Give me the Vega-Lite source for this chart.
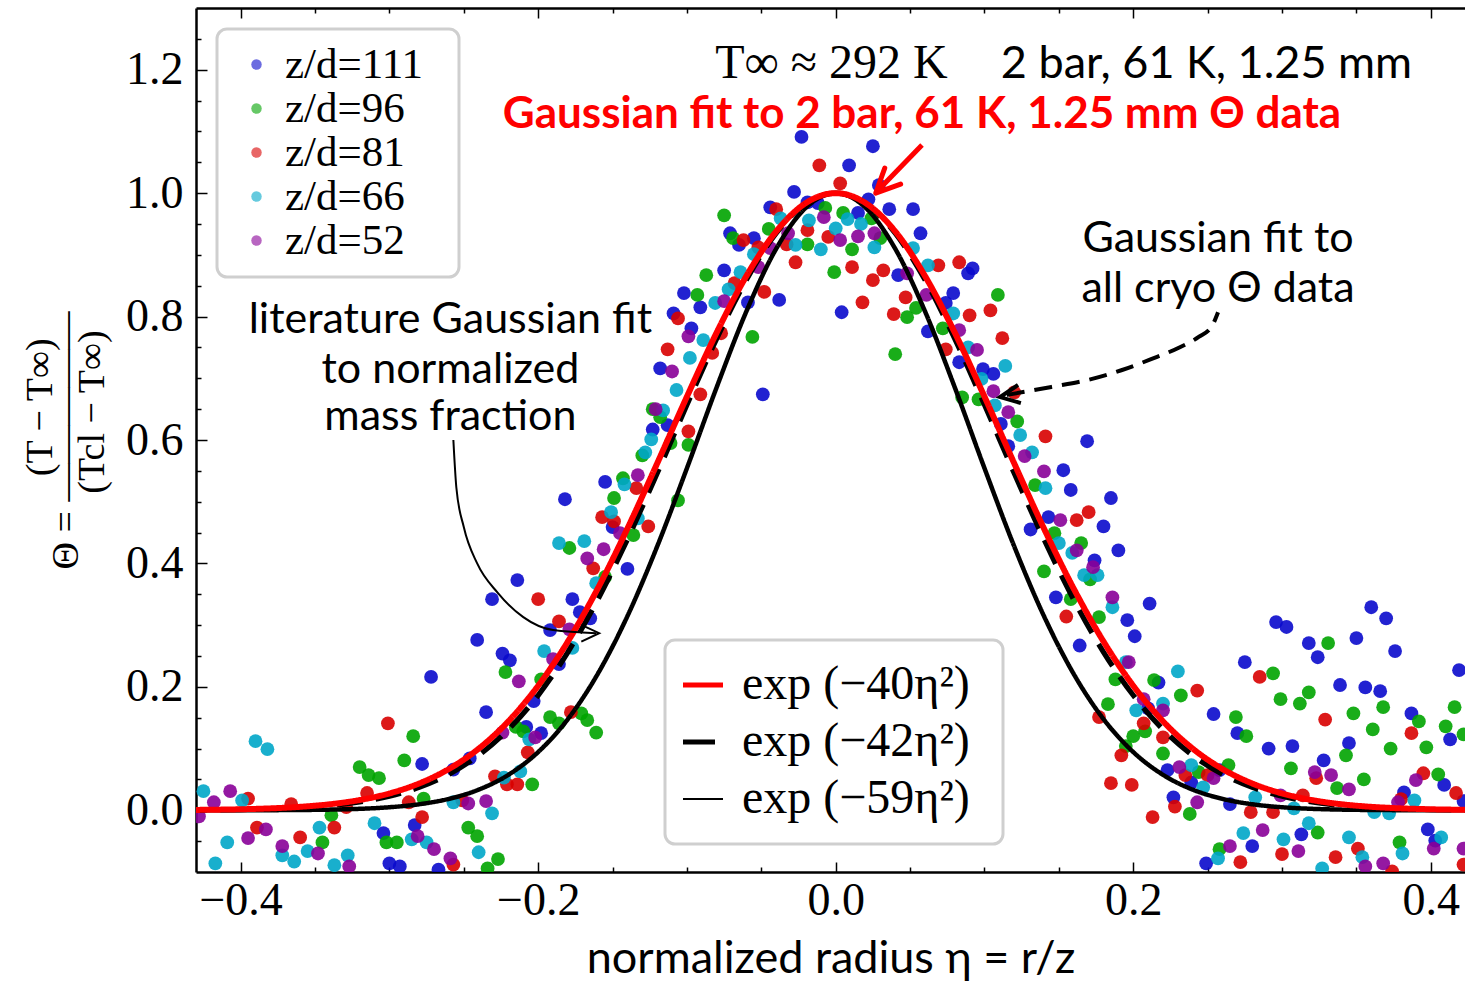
{
  "$schema": "https://vega.github.io/schema/vega-lite/v6.json",
  "width": 1269,
  "height": 864,
  "autosize": {"type": "none"},
  "padding": {"left": 196, "top": 8, "right": 0, "bottom": 110},
  "background": "white",
  "config": {
    "view": {"stroke": null},
    "axis": {"domainColor": "black", "domainWidth": 2.5, "tickColor": "black", "tickWidth": 1.5, "grid": false, "labelColor": "black", "titleColor": "black"},
    "legend": {"strokeWidth": 3}
  },
  "datasets": {
    "pts": [
      {"eta": -0.278, "theta": 0.075, "zd": "z/d=111"}, {"eta": -0.272, "theta": 0.216, "zd": "z/d=111"}, {"eta": -0.304, "theta": -0.037, "zd": "z/d=111"}, {"eta": -0.3, "theta": -0.086, "zd": "z/d=111"}, {"eta": -0.293, "theta": -0.091, "zd": "z/d=111"}, {"eta": -0.283, "theta": -0.024, "zd": "z/d=111"}, {"eta": -0.267, "theta": -0.096, "zd": "z/d=111"}, {"eta": -0.214, "theta": 0.373, "zd": "z/d=111"}, {"eta": -0.231, "theta": 0.342, "zd": "z/d=111"}, {"eta": -0.177, "theta": 0.342, "zd": "z/d=111"}, {"eta": -0.172, "theta": 0.321, "zd": "z/d=111"}, {"eta": -0.192, "theta": 0.292, "zd": "z/d=111"}, {"eta": -0.165, "theta": 0.311, "zd": "z/d=111"}, {"eta": -0.241, "theta": 0.276, "zd": "z/d=111"}, {"eta": -0.224, "theta": 0.254, "zd": "z/d=111"}, {"eta": -0.219, "theta": 0.243, "zd": "z/d=111"}, {"eta": -0.186, "theta": 0.237, "zd": "z/d=111"}, {"eta": -0.203, "theta": 0.177, "zd": "z/d=111"}, {"eta": -0.235, "theta": 0.159, "zd": "z/d=111"}, {"eta": -0.208, "theta": 0.135, "zd": "z/d=111"}, {"eta": -0.198, "theta": 0.125, "zd": "z/d=111"}, {"eta": -0.246, "theta": 0.084, "zd": "z/d=111"}, {"eta": -0.257, "theta": 0.066, "zd": "z/d=111"}, {"eta": -0.118, "theta": 0.716, "zd": "z/d=111"}, {"eta": -0.113, "theta": 0.624, "zd": "z/d=111"}, {"eta": -0.123, "theta": 0.617, "zd": "z/d=111"}, {"eta": -0.155, "theta": 0.532, "zd": "z/d=111"}, {"eta": -0.182, "theta": 0.504, "zd": "z/d=111"}, {"eta": -0.15, "theta": 0.459, "zd": "z/d=111"}, {"eta": -0.14, "theta": 0.391, "zd": "z/d=111"}, {"eta": -0.049, "theta": 0.674, "zd": "z/d=111"}, {"eta": -0.023, "theta": 1.091, "zd": "z/d=111"}, {"eta": 0.025, "theta": 1.076, "zd": "z/d=111"}, {"eta": 0.009, "theta": 1.045, "zd": "z/d=111"}, {"eta": -0.028, "theta": 1.002, "zd": "z/d=111"}, {"eta": 0.029, "theta": 1.013, "zd": "z/d=111"}, {"eta": -0.044, "theta": 0.977, "zd": "z/d=111"}, {"eta": 0.036, "theta": 0.974, "zd": "z/d=111"}, {"eta": 0.052, "theta": 0.974, "zd": "z/d=111"}, {"eta": 0.057, "theta": 0.935, "zd": "z/d=111"}, {"eta": -0.071, "theta": 0.935, "zd": "z/d=111"}, {"eta": -0.055, "theta": 0.927, "zd": "z/d=111"}, {"eta": -0.065, "theta": 0.916, "zd": "z/d=111"}, {"eta": -0.019, "theta": 0.985, "zd": "z/d=111"}, {"eta": -0.012, "theta": 0.984, "zd": "z/d=111"}, {"eta": 0.015, "theta": 0.968, "zd": "z/d=111"}, {"eta": 0.022, "theta": 0.99, "zd": "z/d=111"}, {"eta": 0.042, "theta": 0.867, "zd": "z/d=111"}, {"eta": 0.092, "theta": 0.878, "zd": "z/d=111"}, {"eta": 0.089, "theta": 0.87, "zd": "z/d=111"}, {"eta": -0.038, "theta": 0.827, "zd": "z/d=111"}, {"eta": 0.004, "theta": 0.807, "zd": "z/d=111"}, {"eta": 0.079, "theta": 0.838, "zd": "z/d=111"}, {"eta": 0.074, "theta": 0.822, "zd": "z/d=111"}, {"eta": 0.062, "theta": 0.776, "zd": "z/d=111"}, {"eta": -0.097, "theta": 0.781, "zd": "z/d=111"}, {"eta": -0.109, "theta": 0.805, "zd": "z/d=111"}, {"eta": -0.102, "theta": 0.838, "zd": "z/d=111"}, {"eta": -0.091, "theta": 0.815, "zd": "z/d=111"}, {"eta": -0.059, "theta": 0.823, "zd": "z/d=111"}, {"eta": -0.075, "theta": 0.875, "zd": "z/d=111"}, {"eta": 0.083, "theta": 0.726, "zd": "z/d=111"}, {"eta": 0.099, "theta": 0.715, "zd": "z/d=111"}, {"eta": 0.106, "theta": 0.707, "zd": "z/d=111"}, {"eta": 0.111, "theta": 0.626, "zd": "z/d=111"}, {"eta": 0.169, "theta": 0.598, "zd": "z/d=111"}, {"eta": 0.116, "theta": 0.59, "zd": "z/d=111"}, {"eta": 0.153, "theta": 0.551, "zd": "z/d=111"}, {"eta": 0.158, "theta": 0.519, "zd": "z/d=111"}, {"eta": 0.185, "theta": 0.506, "zd": "z/d=111"}, {"eta": 0.143, "theta": 0.475, "zd": "z/d=111"}, {"eta": 0.131, "theta": 0.455, "zd": "z/d=111"}, {"eta": 0.18, "theta": 0.46, "zd": "z/d=111"}, {"eta": 0.19, "theta": 0.421, "zd": "z/d=111"}, {"eta": 0.174, "theta": 0.405, "zd": "z/d=111"}, {"eta": 0.148, "theta": 0.345, "zd": "z/d=111"}, {"eta": 0.211, "theta": 0.335, "zd": "z/d=111"}, {"eta": 0.196, "theta": 0.308, "zd": "z/d=111"}, {"eta": 0.296, "theta": 0.305, "zd": "z/d=111"}, {"eta": 0.303, "theta": 0.297, "zd": "z/d=111"}, {"eta": 0.36, "theta": 0.329, "zd": "z/d=111"}, {"eta": 0.37, "theta": 0.311, "zd": "z/d=111"}, {"eta": 0.201, "theta": 0.282, "zd": "z/d=111"}, {"eta": 0.35, "theta": 0.279, "zd": "z/d=111"}, {"eta": 0.376, "theta": 0.258, "zd": "z/d=111"}, {"eta": 0.318, "theta": 0.271, "zd": "z/d=111"}, {"eta": 0.324, "theta": 0.248, "zd": "z/d=111"}, {"eta": 0.164, "theta": 0.267, "zd": "z/d=111"}, {"eta": 0.275, "theta": 0.24, "zd": "z/d=111"}, {"eta": 0.419, "theta": 0.227, "zd": "z/d=111"}, {"eta": 0.217, "theta": 0.207, "zd": "z/d=111"}, {"eta": 0.339, "theta": 0.203, "zd": "z/d=111"}, {"eta": 0.356, "theta": 0.199, "zd": "z/d=111"}, {"eta": 0.366, "theta": 0.193, "zd": "z/d=111"}, {"eta": 0.387, "theta": 0.157, "zd": "z/d=111"}, {"eta": 0.254, "theta": 0.156, "zd": "z/d=111"}, {"eta": 0.21, "theta": 0.165, "zd": "z/d=111"}, {"eta": 0.27, "theta": 0.125, "zd": "z/d=111"}, {"eta": 0.291, "theta": 0.1, "zd": "z/d=111"}, {"eta": 0.307, "theta": 0.104, "zd": "z/d=111"}, {"eta": 0.413, "theta": 0.115, "zd": "z/d=111"}, {"eta": 0.345, "theta": 0.109, "zd": "z/d=111"}, {"eta": 0.328, "theta": 0.081, "zd": "z/d=111"}, {"eta": 0.409, "theta": 0.041, "zd": "z/d=111"}, {"eta": 0.382, "theta": 0.029, "zd": "z/d=111"}, {"eta": 0.422, "theta": 0.015, "zd": "z/d=111"}, {"eta": 0.223, "theta": 0.065, "zd": "z/d=111"}, {"eta": 0.239, "theta": 0.045, "zd": "z/d=111"}, {"eta": 0.258, "theta": 0.065, "zd": "z/d=111"}, {"eta": 0.227, "theta": 0.021, "zd": "z/d=111"}, {"eta": 0.265, "theta": 0.01, "zd": "z/d=111"}, {"eta": 0.313, "theta": -0.039, "zd": "z/d=111"}, {"eta": 0.28, "theta": -0.058, "zd": "z/d=111"}, {"eta": 0.249, "theta": -0.086, "zd": "z/d=111"}, {"eta": 0.398, "theta": -0.031, "zd": "z/d=111"}, {"eta": 0.403, "theta": -0.049, "zd": "z/d=111"},
      {"eta": -0.32, "theta": 0.07, "zd": "z/d=96"}, {"eta": -0.314, "theta": 0.057, "zd": "z/d=96"}, {"eta": -0.307, "theta": 0.052, "zd": "z/d=96"}, {"eta": -0.284, "theta": 0.12, "zd": "z/d=96"}, {"eta": -0.29, "theta": 0.081, "zd": "z/d=96"}, {"eta": -0.277, "theta": 0.019, "zd": "z/d=96"}, {"eta": -0.339, "theta": -0.008, "zd": "z/d=96"}, {"eta": -0.345, "theta": -0.052, "zd": "z/d=96"}, {"eta": -0.302, "theta": -0.052, "zd": "z/d=96"}, {"eta": -0.295, "theta": -0.052, "zd": "z/d=96"}, {"eta": -0.222, "theta": 0.224, "zd": "z/d=96"}, {"eta": -0.198, "theta": 0.212, "zd": "z/d=96"}, {"eta": -0.192, "theta": 0.151, "zd": "z/d=96"}, {"eta": -0.186, "theta": 0.141, "zd": "z/d=96"}, {"eta": -0.171, "theta": 0.157, "zd": "z/d=96"}, {"eta": -0.167, "theta": 0.146, "zd": "z/d=96"}, {"eta": -0.161, "theta": 0.126, "zd": "z/d=96"}, {"eta": -0.215, "theta": 0.135, "zd": "z/d=96"}, {"eta": -0.21, "theta": 0.128, "zd": "z/d=96"}, {"eta": -0.204, "theta": 0.042, "zd": "z/d=96"}, {"eta": -0.247, "theta": -0.028, "zd": "z/d=96"}, {"eta": -0.241, "theta": -0.042, "zd": "z/d=96"}, {"eta": -0.227, "theta": -0.079, "zd": "z/d=96"}, {"eta": -0.234, "theta": -0.094, "zd": "z/d=96"}, {"eta": -0.123, "theta": 0.65, "zd": "z/d=96"}, {"eta": -0.118, "theta": 0.637, "zd": "z/d=96"}, {"eta": -0.111, "theta": 0.595, "zd": "z/d=96"}, {"eta": -0.13, "theta": 0.575, "zd": "z/d=96"}, {"eta": -0.143, "theta": 0.538, "zd": "z/d=96"}, {"eta": -0.149, "theta": 0.506, "zd": "z/d=96"}, {"eta": -0.106, "theta": 0.502, "zd": "z/d=96"}, {"eta": -0.136, "theta": 0.446, "zd": "z/d=96"}, {"eta": -0.179, "theta": 0.425, "zd": "z/d=96"}, {"eta": -0.155, "theta": 0.378, "zd": "z/d=96"}, {"eta": -0.099, "theta": 0.592, "zd": "z/d=96"}, {"eta": -0.075, "theta": 0.964, "zd": "z/d=96"}, {"eta": -0.069, "theta": 0.927, "zd": "z/d=96"}, {"eta": -0.045, "theta": 0.942, "zd": "z/d=96"}, {"eta": -0.007, "theta": 0.976, "zd": "z/d=96"}, {"eta": 0.005, "theta": 0.968, "zd": "z/d=96"}, {"eta": 0.024, "theta": 0.959, "zd": "z/d=96"}, {"eta": -0.019, "theta": 0.917, "zd": "z/d=96"}, {"eta": 0.011, "theta": 0.909, "zd": "z/d=96"}, {"eta": 0.03, "theta": 0.927, "zd": "z/d=96"}, {"eta": -0.001, "theta": 0.872, "zd": "z/d=96"}, {"eta": 0.048, "theta": 0.799, "zd": "z/d=96"}, {"eta": 0.054, "theta": 0.814, "zd": "z/d=96"}, {"eta": 0.072, "theta": 0.781, "zd": "z/d=96"}, {"eta": 0.04, "theta": 0.739, "zd": "z/d=96"}, {"eta": -0.056, "theta": 0.767, "zd": "z/d=96"}, {"eta": -0.093, "theta": 0.835, "zd": "z/d=96"}, {"eta": -0.087, "theta": 0.867, "zd": "z/d=96"}, {"eta": 0.109, "theta": 0.835, "zd": "z/d=96"}, {"eta": 0.085, "theta": 0.669, "zd": "z/d=96"}, {"eta": 0.096, "theta": 0.666, "zd": "z/d=96"}, {"eta": 0.122, "theta": 0.63, "zd": "z/d=96"}, {"eta": 0.134, "theta": 0.527, "zd": "z/d=96"}, {"eta": 0.147, "theta": 0.449, "zd": "z/d=96"}, {"eta": 0.165, "theta": 0.433, "zd": "z/d=96"}, {"eta": 0.171, "theta": 0.374, "zd": "z/d=96"}, {"eta": 0.14, "theta": 0.387, "zd": "z/d=96"}, {"eta": 0.158, "theta": 0.342, "zd": "z/d=96"}, {"eta": 0.177, "theta": 0.313, "zd": "z/d=96"}, {"eta": 0.331, "theta": 0.271, "zd": "z/d=96"}, {"eta": 0.294, "theta": 0.222, "zd": "z/d=96"}, {"eta": 0.188, "theta": 0.212, "zd": "z/d=96"}, {"eta": 0.214, "theta": 0.211, "zd": "z/d=96"}, {"eta": 0.232, "theta": 0.186, "zd": "z/d=96"}, {"eta": 0.318, "theta": 0.191, "zd": "z/d=96"}, {"eta": 0.299, "theta": 0.18, "zd": "z/d=96"}, {"eta": 0.312, "theta": 0.173, "zd": "z/d=96"}, {"eta": 0.368, "theta": 0.167, "zd": "z/d=96"}, {"eta": 0.348, "theta": 0.157, "zd": "z/d=96"}, {"eta": 0.392, "theta": 0.144, "zd": "z/d=96"}, {"eta": 0.416, "theta": 0.167, "zd": "z/d=96"}, {"eta": 0.269, "theta": 0.151, "zd": "z/d=96"}, {"eta": 0.183, "theta": 0.172, "zd": "z/d=96"}, {"eta": 0.2, "theta": 0.12, "zd": "z/d=96"}, {"eta": 0.208, "theta": 0.128, "zd": "z/d=96"}, {"eta": 0.22, "theta": 0.092, "zd": "z/d=96"}, {"eta": 0.195, "theta": 0.104, "zd": "z/d=96"}, {"eta": 0.276, "theta": 0.12, "zd": "z/d=96"}, {"eta": 0.41, "theta": 0.136, "zd": "z/d=96"}, {"eta": 0.422, "theta": 0.123, "zd": "z/d=96"}, {"eta": 0.343, "theta": 0.089, "zd": "z/d=96"}, {"eta": 0.361, "theta": 0.131, "zd": "z/d=96"}, {"eta": 0.373, "theta": 0.1, "zd": "z/d=96"}, {"eta": 0.397, "theta": 0.102, "zd": "z/d=96"}, {"eta": 0.306, "theta": 0.068, "zd": "z/d=96"}, {"eta": 0.337, "theta": 0.036, "zd": "z/d=96"}, {"eta": 0.355, "theta": 0.05, "zd": "z/d=96"}, {"eta": 0.405, "theta": 0.058, "zd": "z/d=96"}, {"eta": 0.244, "theta": 0.062, "zd": "z/d=96"}, {"eta": 0.264, "theta": 0.073, "zd": "z/d=96"}, {"eta": 0.238, "theta": -0.006, "zd": "z/d=96"}, {"eta": 0.324, "theta": -0.036, "zd": "z/d=96"}, {"eta": 0.258, "theta": -0.063, "zd": "z/d=96"}, {"eta": 0.379, "theta": -0.052, "zd": "z/d=96"},
      {"eta": -0.395, "theta": 0.019, "zd": "z/d=81"}, {"eta": -0.366, "theta": 0.01, "zd": "z/d=81"}, {"eta": -0.315, "theta": 0.028, "zd": "z/d=81"}, {"eta": -0.301, "theta": 0.141, "zd": "z/d=81"}, {"eta": -0.287, "theta": 0.013, "zd": "z/d=81"}, {"eta": -0.329, "theta": 0.005, "zd": "z/d=81"}, {"eta": -0.337, "theta": -0.028, "zd": "z/d=81"}, {"eta": -0.389, "theta": -0.028, "zd": "z/d=81"}, {"eta": -0.36, "theta": -0.044, "zd": "z/d=81"}, {"eta": -0.278, "theta": -0.011, "zd": "z/d=81"}, {"eta": -0.2, "theta": 0.342, "zd": "z/d=81"}, {"eta": -0.186, "theta": 0.306, "zd": "z/d=81"}, {"eta": -0.178, "theta": 0.159, "zd": "z/d=81"}, {"eta": -0.207, "theta": 0.094, "zd": "z/d=81"}, {"eta": -0.229, "theta": 0.055, "zd": "z/d=81"}, {"eta": -0.221, "theta": 0.042, "zd": "z/d=81"}, {"eta": -0.214, "theta": 0.042, "zd": "z/d=81"}, {"eta": -0.251, "theta": 0.016, "zd": "z/d=81"}, {"eta": -0.257, "theta": -0.088, "zd": "z/d=81"}, {"eta": -0.134, "theta": 0.522, "zd": "z/d=81"}, {"eta": -0.157, "theta": 0.475, "zd": "z/d=81"}, {"eta": -0.149, "theta": 0.468, "zd": "z/d=81"}, {"eta": -0.126, "theta": 0.46, "zd": "z/d=81"}, {"eta": -0.163, "theta": 0.392, "zd": "z/d=81"}, {"eta": -0.091, "theta": 0.674, "zd": "z/d=81"}, {"eta": -0.083, "theta": 0.741, "zd": "z/d=81"}, {"eta": -0.099, "theta": 0.614, "zd": "z/d=81"}, {"eta": -0.011, "theta": 1.045, "zd": "z/d=81"}, {"eta": 0.003, "theta": 1.016, "zd": "z/d=81"}, {"eta": -0.04, "theta": 0.974, "zd": "z/d=81"}, {"eta": -0.062, "theta": 0.924, "zd": "z/d=81"}, {"eta": -0.033, "theta": 0.917, "zd": "z/d=81"}, {"eta": -0.019, "theta": 0.94, "zd": "z/d=81"}, {"eta": -0.005, "theta": 0.929, "zd": "z/d=81"}, {"eta": -0.027, "theta": 0.888, "zd": "z/d=81"}, {"eta": 0.011, "theta": 0.88, "zd": "z/d=81"}, {"eta": 0.025, "theta": 0.859, "zd": "z/d=81"}, {"eta": 0.032, "theta": 0.875, "zd": "z/d=81"}, {"eta": 0.069, "theta": 0.883, "zd": "z/d=81"}, {"eta": 0.083, "theta": 0.888, "zd": "z/d=81"}, {"eta": -0.048, "theta": 0.84, "zd": "z/d=81"}, {"eta": 0.018, "theta": 0.823, "zd": "z/d=81"}, {"eta": 0.047, "theta": 0.831, "zd": "z/d=81"}, {"eta": 0.039, "theta": 0.804, "zd": "z/d=81"}, {"eta": 0.09, "theta": 0.802, "zd": "z/d=81"}, {"eta": 0.074, "theta": 0.747, "zd": "z/d=81"}, {"eta": -0.077, "theta": 0.773, "zd": "z/d=81"}, {"eta": -0.113, "theta": 0.747, "zd": "z/d=81"}, {"eta": -0.106, "theta": 0.797, "zd": "z/d=81"}, {"eta": -0.068, "theta": 0.854, "zd": "z/d=81"}, {"eta": -0.052, "theta": 0.912, "zd": "z/d=81"}, {"eta": 0.104, "theta": 0.81, "zd": "z/d=81"}, {"eta": 0.112, "theta": 0.765, "zd": "z/d=81"}, {"eta": 0.12, "theta": 0.677, "zd": "z/d=81"}, {"eta": 0.141, "theta": 0.606, "zd": "z/d=81"}, {"eta": 0.17, "theta": 0.483, "zd": "z/d=81"}, {"eta": 0.162, "theta": 0.47, "zd": "z/d=81"}, {"eta": 0.155, "theta": 0.314, "zd": "z/d=81"}, {"eta": 0.285, "theta": 0.216, "zd": "z/d=81"}, {"eta": 0.243, "theta": 0.194, "zd": "z/d=81"}, {"eta": 0.329, "theta": 0.147, "zd": "z/d=81"}, {"eta": 0.177, "theta": 0.151, "zd": "z/d=81"}, {"eta": 0.207, "theta": 0.141, "zd": "z/d=81"}, {"eta": 0.22, "theta": 0.118, "zd": "z/d=81"}, {"eta": 0.192, "theta": 0.089, "zd": "z/d=81"}, {"eta": 0.387, "theta": 0.125, "zd": "z/d=81"}, {"eta": 0.323, "theta": 0.052, "zd": "z/d=81"}, {"eta": 0.395, "theta": 0.06, "zd": "z/d=81"}, {"eta": 0.417, "theta": 0.028, "zd": "z/d=81"}, {"eta": 0.38, "theta": 0.018, "zd": "z/d=81"}, {"eta": 0.235, "theta": 0.057, "zd": "z/d=81"}, {"eta": 0.25, "theta": 0.057, "zd": "z/d=81"}, {"eta": 0.185, "theta": 0.044, "zd": "z/d=81"}, {"eta": 0.199, "theta": 0.041, "zd": "z/d=81"}, {"eta": 0.228, "theta": 0.006, "zd": "z/d=81"}, {"eta": 0.213, "theta": -0.011, "zd": "z/d=81"}, {"eta": 0.279, "theta": -0.003, "zd": "z/d=81"}, {"eta": 0.294, "theta": -0.003, "zd": "z/d=81"}, {"eta": 0.314, "theta": 0.024, "zd": "z/d=81"}, {"eta": 0.272, "theta": -0.084, "zd": "z/d=81"}, {"eta": 0.3, "theta": -0.071, "zd": "z/d=81"}, {"eta": 0.336, "theta": -0.076, "zd": "z/d=81"}, {"eta": 0.351, "theta": -0.062, "zd": "z/d=81"}, {"eta": 0.374, "theta": -0.099, "zd": "z/d=81"}, {"eta": 0.422, "theta": -0.088, "zd": "z/d=81"},
      {"eta": -0.39, "theta": 0.112, "zd": "z/d=66"}, {"eta": -0.382, "theta": 0.099, "zd": "z/d=66"}, {"eta": -0.425, "theta": 0.031, "zd": "z/d=66"}, {"eta": -0.399, "theta": 0.016, "zd": "z/d=66"}, {"eta": -0.347, "theta": -0.028, "zd": "z/d=66"}, {"eta": -0.409, "theta": -0.052, "zd": "z/d=66"}, {"eta": -0.372, "theta": -0.073, "zd": "z/d=66"}, {"eta": -0.355, "theta": -0.066, "zd": "z/d=66"}, {"eta": -0.364, "theta": -0.083, "zd": "z/d=66"}, {"eta": -0.417, "theta": -0.086, "zd": "z/d=66"}, {"eta": -0.337, "theta": -0.089, "zd": "z/d=66"}, {"eta": -0.328, "theta": -0.073, "zd": "z/d=66"}, {"eta": -0.31, "theta": -0.021, "zd": "z/d=66"}, {"eta": -0.285, "theta": -0.047, "zd": "z/d=66"}, {"eta": -0.275, "theta": -0.052, "zd": "z/d=66"}, {"eta": -0.196, "theta": 0.258, "zd": "z/d=66"}, {"eta": -0.177, "theta": 0.263, "zd": "z/d=66"}, {"eta": -0.206, "theta": 0.115, "zd": "z/d=66"}, {"eta": -0.223, "theta": 0.053, "zd": "z/d=66"}, {"eta": -0.212, "theta": 0.063, "zd": "z/d=66"}, {"eta": -0.257, "theta": 0.013, "zd": "z/d=66"}, {"eta": -0.231, "theta": -0.005, "zd": "z/d=66"}, {"eta": -0.24, "theta": -0.068, "zd": "z/d=66"}, {"eta": -0.107, "theta": 0.681, "zd": "z/d=66"}, {"eta": -0.116, "theta": 0.648, "zd": "z/d=66"}, {"eta": -0.124, "theta": 0.601, "zd": "z/d=66"}, {"eta": -0.128, "theta": 0.58, "zd": "z/d=66"}, {"eta": -0.142, "theta": 0.528, "zd": "z/d=66"}, {"eta": -0.151, "theta": 0.483, "zd": "z/d=66"}, {"eta": -0.133, "theta": 0.473, "zd": "z/d=66"}, {"eta": -0.186, "theta": 0.433, "zd": "z/d=66"}, {"eta": -0.169, "theta": 0.436, "zd": "z/d=66"}, {"eta": -0.161, "theta": 0.368, "zd": "z/d=66"}, {"eta": -0.037, "theta": 0.959, "zd": "z/d=66"}, {"eta": -0.027, "theta": 0.916, "zd": "z/d=66"}, {"eta": -0.018, "theta": 0.956, "zd": "z/d=66"}, {"eta": 0.008, "theta": 0.958, "zd": "z/d=66"}, {"eta": 0.017, "theta": 0.95, "zd": "z/d=66"}, {"eta": 0.0, "theta": 0.943, "zd": "z/d=66"}, {"eta": -0.01, "theta": 0.909, "zd": "z/d=66"}, {"eta": 0.026, "theta": 0.912, "zd": "z/d=66"}, {"eta": 0.052, "theta": 0.911, "zd": "z/d=66"}, {"eta": 0.062, "theta": 0.883, "zd": "z/d=66"}, {"eta": 0.079, "theta": 0.805, "zd": "z/d=66"}, {"eta": -0.089, "theta": 0.762, "zd": "z/d=66"}, {"eta": -0.098, "theta": 0.733, "zd": "z/d=66"}, {"eta": -0.081, "theta": 0.822, "zd": "z/d=66"}, {"eta": -0.064, "theta": 0.872, "zd": "z/d=66"}, {"eta": -0.072, "theta": 0.844, "zd": "z/d=66"}, {"eta": -0.055, "theta": 0.901, "zd": "z/d=66"}, {"eta": 0.089, "theta": 0.75, "zd": "z/d=66"}, {"eta": 0.114, "theta": 0.72, "zd": "z/d=66"}, {"eta": 0.098, "theta": 0.699, "zd": "z/d=66"}, {"eta": 0.107, "theta": 0.656, "zd": "z/d=66"}, {"eta": 0.124, "theta": 0.608, "zd": "z/d=66"}, {"eta": 0.132, "theta": 0.58, "zd": "z/d=66"}, {"eta": 0.141, "theta": 0.522, "zd": "z/d=66"}, {"eta": 0.15, "theta": 0.433, "zd": "z/d=66"}, {"eta": 0.159, "theta": 0.417, "zd": "z/d=66"}, {"eta": 0.167, "theta": 0.381, "zd": "z/d=66"}, {"eta": 0.176, "theta": 0.381, "zd": "z/d=66"}, {"eta": 0.186, "theta": 0.329, "zd": "z/d=66"}, {"eta": 0.195, "theta": 0.24, "zd": "z/d=66"}, {"eta": 0.23, "theta": 0.225, "zd": "z/d=66"}, {"eta": 0.202, "theta": 0.162, "zd": "z/d=66"}, {"eta": 0.22, "theta": 0.173, "zd": "z/d=66"}, {"eta": 0.389, "theta": 0.016, "zd": "z/d=66"}, {"eta": 0.239, "theta": 0.073, "zd": "z/d=66"}, {"eta": 0.247, "theta": 0.037, "zd": "z/d=66"}, {"eta": 0.282, "theta": 0.021, "zd": "z/d=66"}, {"eta": 0.308, "theta": 0.003, "zd": "z/d=66"}, {"eta": 0.362, "theta": -0.003, "zd": "z/d=66"}, {"eta": 0.372, "theta": -0.005, "zd": "z/d=66"}, {"eta": 0.318, "theta": -0.021, "zd": "z/d=66"}, {"eta": 0.274, "theta": -0.037, "zd": "z/d=66"}, {"eta": 0.301, "theta": -0.047, "zd": "z/d=66"}, {"eta": 0.257, "theta": -0.078, "zd": "z/d=66"}, {"eta": 0.345, "theta": -0.044, "zd": "z/d=66"}, {"eta": 0.354, "theta": -0.076, "zd": "z/d=66"}, {"eta": 0.327, "theta": -0.094, "zd": "z/d=66"}, {"eta": 0.407, "theta": -0.044, "zd": "z/d=66"}, {"eta": 0.381, "theta": -0.07, "zd": "z/d=66"},
      {"eta": -0.407, "theta": 0.031, "zd": "z/d=52"}, {"eta": -0.418, "theta": 0.013, "zd": "z/d=52"}, {"eta": -0.428, "theta": -0.01, "zd": "z/d=52"}, {"eta": -0.383, "theta": -0.031, "zd": "z/d=52"}, {"eta": -0.395, "theta": -0.045, "zd": "z/d=52"}, {"eta": -0.372, "theta": -0.058, "zd": "z/d=52"}, {"eta": -0.348, "theta": -0.07, "zd": "z/d=52"}, {"eta": -0.327, "theta": -0.091, "zd": "z/d=52"}, {"eta": -0.281, "theta": -0.042, "zd": "z/d=52"}, {"eta": -0.27, "theta": -0.063, "zd": "z/d=52"}, {"eta": -0.179, "theta": 0.293, "zd": "z/d=52"}, {"eta": -0.19, "theta": 0.245, "zd": "z/d=52"}, {"eta": -0.213, "theta": 0.209, "zd": "z/d=52"}, {"eta": -0.224, "theta": 0.126, "zd": "z/d=52"}, {"eta": -0.202, "theta": 0.118, "zd": "z/d=52"}, {"eta": -0.247, "theta": 0.011, "zd": "z/d=52"}, {"eta": -0.235, "theta": 0.015, "zd": "z/d=52"}, {"eta": -0.259, "theta": -0.078, "zd": "z/d=52"}, {"eta": -0.11, "theta": 0.711, "zd": "z/d=52"}, {"eta": -0.121, "theta": 0.65, "zd": "z/d=52"}, {"eta": -0.133, "theta": 0.543, "zd": "z/d=52"}, {"eta": -0.145, "theta": 0.449, "zd": "z/d=52"}, {"eta": -0.156, "theta": 0.423, "zd": "z/d=52"}, {"eta": -0.167, "theta": 0.408, "zd": "z/d=52"}, {"eta": -0.032, "theta": 0.935, "zd": "z/d=52"}, {"eta": -0.008, "theta": 0.961, "zd": "z/d=52"}, {"eta": 0.003, "theta": 0.924, "zd": "z/d=52"}, {"eta": 0.015, "theta": 0.93, "zd": "z/d=52"}, {"eta": 0.026, "theta": 0.935, "zd": "z/d=52"}, {"eta": 0.048, "theta": 0.87, "zd": "z/d=52"}, {"eta": 0.061, "theta": 0.835, "zd": "z/d=52"}, {"eta": 0.083, "theta": 0.778, "zd": "z/d=52"}, {"eta": -0.099, "theta": 0.768, "zd": "z/d=52"}, {"eta": -0.075, "theta": 0.825, "zd": "z/d=52"}, {"eta": -0.052, "theta": 0.88, "zd": "z/d=52"}, {"eta": -0.044, "theta": 0.911, "zd": "z/d=52"}, {"eta": 0.095, "theta": 0.746, "zd": "z/d=52"}, {"eta": 0.106, "theta": 0.679, "zd": "z/d=52"}, {"eta": 0.116, "theta": 0.645, "zd": "z/d=52"}, {"eta": 0.127, "theta": 0.574, "zd": "z/d=52"}, {"eta": 0.14, "theta": 0.549, "zd": "z/d=52"}, {"eta": 0.151, "theta": 0.47, "zd": "z/d=52"}, {"eta": 0.162, "theta": 0.421, "zd": "z/d=52"}, {"eta": 0.173, "theta": 0.394, "zd": "z/d=52"}, {"eta": 0.186, "theta": 0.345, "zd": "z/d=52"}, {"eta": 0.197, "theta": 0.24, "zd": "z/d=52"}, {"eta": 0.207, "theta": 0.18, "zd": "z/d=52"}, {"eta": 0.22, "theta": 0.162, "zd": "z/d=52"}, {"eta": 0.322, "theta": 0.062, "zd": "z/d=52"}, {"eta": 0.333, "theta": 0.057, "zd": "z/d=52"}, {"eta": 0.345, "theta": 0.034, "zd": "z/d=52"}, {"eta": 0.39, "theta": 0.049, "zd": "z/d=52"}, {"eta": 0.378, "theta": 0.013, "zd": "z/d=52"}, {"eta": 0.231, "theta": 0.07, "zd": "z/d=52"}, {"eta": 0.254, "theta": 0.052, "zd": "z/d=52"}, {"eta": 0.243, "theta": 0.013, "zd": "z/d=52"}, {"eta": 0.299, "theta": 0.024, "zd": "z/d=52"}, {"eta": 0.287, "theta": -0.032, "zd": "z/d=52"}, {"eta": 0.265, "theta": -0.058, "zd": "z/d=52"}, {"eta": 0.311, "theta": -0.066, "zd": "z/d=52"}, {"eta": 0.356, "theta": -0.091, "zd": "z/d=52"}, {"eta": 0.368, "theta": -0.086, "zd": "z/d=52"}, {"eta": 0.402, "theta": -0.062, "zd": "z/d=52"}, {"eta": 0.422, "theta": -0.062, "zd": "z/d=52"}
    ],
    "fits": [
      {"eta": -0.44, "theta": 0.00001, "fit": "exp (−59η²)"}, {"eta": -0.42, "theta": 0.00003, "fit": "exp (−59η²)"}, {"eta": -0.4, "theta": 0.00008, "fit": "exp (−59η²)"}, {"eta": -0.38, "theta": 0.0002, "fit": "exp (−59η²)"}, {"eta": -0.36, "theta": 0.00048, "fit": "exp (−59η²)"}, {"eta": -0.34, "theta": 0.00109, "fit": "exp (−59η²)"}, {"eta": -0.32, "theta": 0.00238, "fit": "exp (−59η²)"}, {"eta": -0.3, "theta": 0.00494, "fit": "exp (−59η²)"}, {"eta": -0.28, "theta": 0.0098, "fit": "exp (−59η²)"}, {"eta": -0.26, "theta": 0.01853, "fit": "exp (−59η²)"}, {"eta": -0.24, "theta": 0.03343, "fit": "exp (−59η²)"}, {"eta": -0.22, "theta": 0.05752, "fit": "exp (−59η²)"}, {"eta": -0.2, "theta": 0.09442, "fit": "exp (−59η²)"}, {"eta": -0.18, "theta": 0.14784, "fit": "exp (−59η²)"}, {"eta": -0.16, "theta": 0.22082, "fit": "exp (−59η²)"}, {"eta": -0.14, "theta": 0.31462, "fit": "exp (−59η²)"}, {"eta": -0.12, "theta": 0.42759, "fit": "exp (−59η²)"}, {"eta": -0.1, "theta": 0.55433, "fit": "exp (−59η²)"}, {"eta": -0.08, "theta": 0.6855, "fit": "exp (−59η²)"}, {"eta": -0.06, "theta": 0.80864, "fit": "exp (−59η²)"}, {"eta": -0.04, "theta": 0.90992, "fit": "exp (−59η²)"}, {"eta": -0.02, "theta": 0.97668, "fit": "exp (−59η²)"}, {"eta": 0, "theta": 1, "fit": "exp (−59η²)"}, {"eta": 0.02, "theta": 0.97668, "fit": "exp (−59η²)"}, {"eta": 0.04, "theta": 0.90992, "fit": "exp (−59η²)"}, {"eta": 0.06, "theta": 0.80864, "fit": "exp (−59η²)"}, {"eta": 0.08, "theta": 0.6855, "fit": "exp (−59η²)"}, {"eta": 0.1, "theta": 0.55433, "fit": "exp (−59η²)"}, {"eta": 0.12, "theta": 0.42759, "fit": "exp (−59η²)"}, {"eta": 0.14, "theta": 0.31462, "fit": "exp (−59η²)"}, {"eta": 0.16, "theta": 0.22082, "fit": "exp (−59η²)"}, {"eta": 0.18, "theta": 0.14784, "fit": "exp (−59η²)"}, {"eta": 0.2, "theta": 0.09442, "fit": "exp (−59η²)"}, {"eta": 0.22, "theta": 0.05752, "fit": "exp (−59η²)"}, {"eta": 0.24, "theta": 0.03343, "fit": "exp (−59η²)"}, {"eta": 0.26, "theta": 0.01853, "fit": "exp (−59η²)"}, {"eta": 0.28, "theta": 0.0098, "fit": "exp (−59η²)"}, {"eta": 0.3, "theta": 0.00494, "fit": "exp (−59η²)"}, {"eta": 0.32, "theta": 0.00238, "fit": "exp (−59η²)"}, {"eta": 0.34, "theta": 0.00109, "fit": "exp (−59η²)"}, {"eta": 0.36, "theta": 0.00048, "fit": "exp (−59η²)"}, {"eta": 0.38, "theta": 0.0002, "fit": "exp (−59η²)"}, {"eta": 0.4, "theta": 0.00008, "fit": "exp (−59η²)"}, {"eta": 0.42, "theta": 0.00003, "fit": "exp (−59η²)"}, {"eta": 0.44, "theta": 0.00001, "fit": "exp (−59η²)"},
      {"eta": -0.44, "theta": 0.00029, "fit": "exp (−42η²)"}, {"eta": -0.42, "theta": 0.00061, "fit": "exp (−42η²)"}, {"eta": -0.4, "theta": 0.00121, "fit": "exp (−42η²)"}, {"eta": -0.38, "theta": 0.00232, "fit": "exp (−42η²)"}, {"eta": -0.36, "theta": 0.00433, "fit": "exp (−42η²)"}, {"eta": -0.34, "theta": 0.00779, "fit": "exp (−42η²)"}, {"eta": -0.32, "theta": 0.01356, "fit": "exp (−42η²)"}, {"eta": -0.3, "theta": 0.02282, "fit": "exp (−42η²)"}, {"eta": -0.28, "theta": 0.03715, "fit": "exp (−42η²)"}, {"eta": -0.26, "theta": 0.05847, "fit": "exp (−42η²)"}, {"eta": -0.24, "theta": 0.08899, "fit": "exp (−42η²)"}, {"eta": -0.22, "theta": 0.13097, "fit": "exp (−42η²)"}, {"eta": -0.2, "theta": 0.18637, "fit": "exp (−42η²)"}, {"eta": -0.18, "theta": 0.25646, "fit": "exp (−42η²)"}, {"eta": -0.16, "theta": 0.34123, "fit": "exp (−42η²)"}, {"eta": -0.14, "theta": 0.43902, "fit": "exp (−42η²)"}, {"eta": -0.12, "theta": 0.54618, "fit": "exp (−42η²)"}, {"eta": -0.1, "theta": 0.65705, "fit": "exp (−42η²)"}, {"eta": -0.08, "theta": 0.7643, "fit": "exp (−42η²)"}, {"eta": -0.06, "theta": 0.85968, "fit": "exp (−42η²)"}, {"eta": -0.04, "theta": 0.93501, "fit": "exp (−42η²)"}, {"eta": -0.02, "theta": 0.98334, "fit": "exp (−42η²)"}, {"eta": 0, "theta": 1, "fit": "exp (−42η²)"}, {"eta": 0.02, "theta": 0.98334, "fit": "exp (−42η²)"}, {"eta": 0.04, "theta": 0.93501, "fit": "exp (−42η²)"}, {"eta": 0.06, "theta": 0.85968, "fit": "exp (−42η²)"}, {"eta": 0.08, "theta": 0.7643, "fit": "exp (−42η²)"}, {"eta": 0.1, "theta": 0.65705, "fit": "exp (−42η²)"}, {"eta": 0.12, "theta": 0.54618, "fit": "exp (−42η²)"}, {"eta": 0.14, "theta": 0.43902, "fit": "exp (−42η²)"}, {"eta": 0.16, "theta": 0.34123, "fit": "exp (−42η²)"}, {"eta": 0.18, "theta": 0.25646, "fit": "exp (−42η²)"}, {"eta": 0.2, "theta": 0.18637, "fit": "exp (−42η²)"}, {"eta": 0.22, "theta": 0.13097, "fit": "exp (−42η²)"}, {"eta": 0.24, "theta": 0.08899, "fit": "exp (−42η²)"}, {"eta": 0.26, "theta": 0.05847, "fit": "exp (−42η²)"}, {"eta": 0.28, "theta": 0.03715, "fit": "exp (−42η²)"}, {"eta": 0.3, "theta": 0.02282, "fit": "exp (−42η²)"}, {"eta": 0.32, "theta": 0.01356, "fit": "exp (−42η²)"}, {"eta": 0.34, "theta": 0.00779, "fit": "exp (−42η²)"}, {"eta": 0.36, "theta": 0.00433, "fit": "exp (−42η²)"}, {"eta": 0.38, "theta": 0.00232, "fit": "exp (−42η²)"}, {"eta": 0.4, "theta": 0.00121, "fit": "exp (−42η²)"}, {"eta": 0.42, "theta": 0.00061, "fit": "exp (−42η²)"}, {"eta": 0.44, "theta": 0.00029, "fit": "exp (−42η²)"},
      {"eta": -0.44, "theta": 0.00043, "fit": "exp (−40η²)"}, {"eta": -0.42, "theta": 0.00086, "fit": "exp (−40η²)"}, {"eta": -0.4, "theta": 0.00166, "fit": "exp (−40η²)"}, {"eta": -0.38, "theta": 0.0031, "fit": "exp (−40η²)"}, {"eta": -0.36, "theta": 0.00561, "fit": "exp (−40η²)"}, {"eta": -0.34, "theta": 0.00981, "fit": "exp (−40η²)"}, {"eta": -0.32, "theta": 0.01664, "fit": "exp (−40η²)"}, {"eta": -0.3, "theta": 0.02732, "fit": "exp (−40η²)"}, {"eta": -0.28, "theta": 0.04346, "fit": "exp (−40η²)"}, {"eta": -0.26, "theta": 0.06694, "fit": "exp (−40η²)"}, {"eta": -0.24, "theta": 0.09987, "fit": "exp (−40η²)"}, {"eta": -0.22, "theta": 0.14428, "fit": "exp (−40η²)"}, {"eta": -0.2, "theta": 0.2019, "fit": "exp (−40η²)"}, {"eta": -0.18, "theta": 0.27362, "fit": "exp (−40η²)"}, {"eta": -0.16, "theta": 0.35916, "fit": "exp (−40η²)"}, {"eta": -0.14, "theta": 0.45658, "fit": "exp (−40η²)"}, {"eta": -0.12, "theta": 0.56214, "fit": "exp (−40η²)"}, {"eta": -0.1, "theta": 0.67032, "fit": "exp (−40η²)"}, {"eta": -0.08, "theta": 0.77415, "fit": "exp (−40η²)"}, {"eta": -0.06, "theta": 0.86589, "fit": "exp (−40η²)"}, {"eta": -0.04, "theta": 0.938, "fit": "exp (−40η²)"}, {"eta": -0.02, "theta": 0.98413, "fit": "exp (−40η²)"}, {"eta": 0, "theta": 1, "fit": "exp (−40η²)"}, {"eta": 0.02, "theta": 0.98413, "fit": "exp (−40η²)"}, {"eta": 0.04, "theta": 0.938, "fit": "exp (−40η²)"}, {"eta": 0.06, "theta": 0.86589, "fit": "exp (−40η²)"}, {"eta": 0.08, "theta": 0.77415, "fit": "exp (−40η²)"}, {"eta": 0.1, "theta": 0.67032, "fit": "exp (−40η²)"}, {"eta": 0.12, "theta": 0.56214, "fit": "exp (−40η²)"}, {"eta": 0.14, "theta": 0.45658, "fit": "exp (−40η²)"}, {"eta": 0.16, "theta": 0.35916, "fit": "exp (−40η²)"}, {"eta": 0.18, "theta": 0.27362, "fit": "exp (−40η²)"}, {"eta": 0.2, "theta": 0.2019, "fit": "exp (−40η²)"}, {"eta": 0.22, "theta": 0.14428, "fit": "exp (−40η²)"}, {"eta": 0.24, "theta": 0.09987, "fit": "exp (−40η²)"}, {"eta": 0.26, "theta": 0.06694, "fit": "exp (−40η²)"}, {"eta": 0.28, "theta": 0.04346, "fit": "exp (−40η²)"}, {"eta": 0.3, "theta": 0.02732, "fit": "exp (−40η²)"}, {"eta": 0.32, "theta": 0.01664, "fit": "exp (−40η²)"}, {"eta": 0.34, "theta": 0.00981, "fit": "exp (−40η²)"}, {"eta": 0.36, "theta": 0.00561, "fit": "exp (−40η²)"}, {"eta": 0.38, "theta": 0.0031, "fit": "exp (−40η²)"}, {"eta": 0.4, "theta": 0.00166, "fit": "exp (−40η²)"}, {"eta": 0.42, "theta": 0.00086, "fit": "exp (−40η²)"}, {"eta": 0.44, "theta": 0.00043, "fit": "exp (−40η²)"}
    ],
    "conditions": [{"eta": -0.081, "theta": 1.186, "txt": "T∞ ≈ 292 K"}],
    "conditionsSans": [{"eta": 0.111, "theta": 1.186, "txt": "2 bar, 61 K, 1.25 mm"}],
    "redNote": [{"eta": 0.058, "theta": 1.105, "txt": "Gaussian fit to 2 bar, 61 K, 1.25 mm Θ data"}],
    "blackNotes": [
      {"eta": 0.257, "theta": 0.904, "txt": "Gaussian fit to"},
      {"eta": 0.257, "theta": 0.823, "txt": "all cryo Θ data"},
      {"eta": -0.259, "theta": 0.773, "txt": "literature Gaussian fit"},
      {"eta": -0.259, "theta": 0.692, "txt": "to normalized"},
      {"eta": -0.259, "theta": 0.616, "txt": "mass fraction"}
    ],
    "redShaft": [{"eta": 0.058, "theta": 1.078}, {"eta": 0.029, "theta": 1.006}],
    "redHead": [{"eta": 0.0326, "theta": 1.0138}],
    "cryoShaft": [
      {"eta": 0.257, "theta": 0.807}, {"eta": 0.253, "theta": 0.785}, {"eta": 0.244, "theta": 0.767}, {"eta": 0.231, "theta": 0.75}, {"eta": 0.212, "theta": 0.731}, {"eta": 0.192, "theta": 0.713}, {"eta": 0.169, "theta": 0.697}, {"eta": 0.145, "theta": 0.686}, {"eta": 0.115, "theta": 0.673}
    ],
    "cryoHead": [{"eta": 0.117, "theta": 0.672}],
    "litShaft": [
      {"eta": -0.257, "theta": 0.6}, {"eta": -0.255, "theta": 0.523}, {"eta": -0.25, "theta": 0.459}, {"eta": -0.241, "theta": 0.4}, {"eta": -0.227, "theta": 0.352}, {"eta": -0.21, "theta": 0.313}, {"eta": -0.19, "theta": 0.292}, {"eta": -0.161, "theta": 0.287}
    ],
    "litHead": [{"eta": -0.165, "theta": 0.287}]
  },
  "layer": [
    {
      "data": {"name": "pts"},
      "mark": {"type": "circle", "size": 190, "opacity": 0.9, "clip": true},
      "encoding": {
        "x": {
          "field": "eta", "type": "quantitative",
          "scale": {"domain": [-0.43, 0.423], "nice": false, "zero": false},
          "axis": {
            "orient": "bottom",
            "values": [-0.4, -0.35, -0.3, -0.25, -0.2, -0.15, -0.1, -0.05, 0, 0.05, 0.1, 0.15, 0.2, 0.25, 0.3, 0.35, 0.4],
            "labelExpr": "abs(datum.value * 5 - round(datum.value * 5)) < 0.001 ? format(datum.value, '.1f') : ''",
            "tickSize": {"condition": {"test": "abs(datum.value * 5 - round(datum.value * 5)) < 0.001", "value": -10}, "value": -5},
            "labelFont": "Liberation Serif", "labelFontSize": 46, "labelPadding": 16,
            "labelOverlap": false, "labelFlush": false,
            "title": "normalized radius η = r/z",
            "titleFont": "Lato", "titleFontSize": 45, "titleFontWeight": "normal", "titlePadding": 8
          }
        },
        "y": {
          "field": "theta", "type": "quantitative",
          "scale": {"domain": [-0.1, 1.3], "nice": false, "zero": false},
          "axis": {
            "orient": "left",
            "values": [-0.05, 0, 0.05, 0.1, 0.15, 0.2, 0.25, 0.3, 0.35, 0.4, 0.45, 0.5, 0.55, 0.6, 0.65, 0.7, 0.75, 0.8, 0.85, 0.9, 0.95, 1, 1.05, 1.1, 1.15, 1.2, 1.25],
            "labelExpr": "abs(datum.value * 5 - round(datum.value * 5)) < 0.001 ? format(datum.value, '.1f') : ''",
            "tickSize": {"condition": {"test": "abs(datum.value * 5 - round(datum.value * 5)) < 0.001", "value": -11}, "value": -5},
            "labelFont": "Liberation Serif", "labelFontSize": 46, "labelPadding": 24,
            "labelOverlap": false, "labelFlush": false,
            "title": ["\u2060\u00a0\u00a0\u00a0\u00a0\u00a0\u00a0\u00a0(T − T∞)", "Θ = —————", "\u2060\u00a0\u00a0\u00a0\u00a0\u00a0\u00a0(Tcl − T∞)"],
            "titleFont": "Liberation Serif", "titleFontSize": 38, "titleFontWeight": "normal", "titleLineHeight": 26, "titlePadding": 14
          }
        },
        "color": {
          "field": "zd", "type": "nominal",
          "scale": {"domain": ["z/d=111", "z/d=96", "z/d=81", "z/d=66", "z/d=52"], "range": ["#0a0acc", "#00a400", "#d80000", "#00a6c8", "#880098"]},
          "legend": {
            "title": null, "orient": "top-left", "offset": 21,
            "labelFont": "Liberation Serif", "labelFontSize": 43, "labelLimit": 400, "labelColor": "black",
            "labelExpr": "datum.label + '\u00a0\u00a0\u2060'",
            "symbolType": "circle", "symbolSize": 110, "symbolOpacity": 0.6, "symbolStrokeWidth": 0,
            "symbolOffset": 4, "labelOffset": 7, "rowPadding": 0, "padding": 14,
            "fillColor": "rgba(255,255,255,0.85)", "strokeColor": "#cfcfcf", "cornerRadius": 10
          }
        }
      }
    },
    {
      "data": {"name": "fits"},
      "mark": {"type": "line", "interpolate": "monotone", "clip": true},
      "encoding": {
        "x": {
          "field": "eta", "type": "quantitative",
          "axis": {
            "orient": "top",
            "values": [-0.4, -0.35, -0.3, -0.25, -0.2, -0.15, -0.1, -0.05, 0, 0.05, 0.1, 0.15, 0.2, 0.25, 0.3, 0.35, 0.4],
            "labels": false, "title": null,
            "tickSize": {"condition": {"test": "abs(datum.value * 5 - round(datum.value * 5)) < 0.001", "value": -10}, "value": -5}
          }
        },
        "y": {"field": "theta", "type": "quantitative", "axis": null},
        "color": {
          "field": "fit", "type": "nominal",
          "scale": {"domain": ["exp (−40η²)", "exp (−42η²)", "exp (−59η²)"], "range": ["#ff0000", "#000000", "#000000"]},
          "legend": {
            "title": null, "orient": "none", "legendX": 469, "legendY": 632,
            "labelFont": "Liberation Serif", "labelFontSize": 48, "labelLimit": 400, "labelColor": "black",
            "labelExpr": "datum.label + '\u00a0\u2060'",
            "symbolType": "stroke", "symbolSize": 1600, "symbolOffset": -7, "labelOffset": 15, "rowPadding": 9, "padding": 21,
            "fillColor": "rgba(255,255,255,0.85)", "strokeColor": "#cfcfcf", "cornerRadius": 10,
            "encode": {
              "symbols": {
                "update": {
                  "strokeWidth": {"signal": "datum.value === 'exp (−59η²)' ? 2 : 5"},
                  "strokeDash": {"signal": "datum.value === 'exp (−42η²)' ? [32, 60] : [1, 0]"}
                }
              }
            }
          }
        },
        "strokeWidth": {
          "field": "fit", "type": "nominal",
          "scale": {"domain": ["exp (−40η²)", "exp (−42η²)", "exp (−59η²)"], "range": [6, 4.5, 2]},
          "legend": null
        },
        "strokeDash": {
          "field": "fit", "type": "nominal",
          "scale": {"domain": ["exp (−40η²)", "exp (−42η²)", "exp (−59η²)"], "range": [[1, 0], [26, 13], [1, 0]]},
          "legend": null
        }
      }
    },
    {
      "data": {"name": "conditions"},
      "mark": {"type": "text", "align": "left", "baseline": "alphabetic", "font": "Liberation Serif", "fontSize": 48, "color": "black"},
      "encoding": {
        "x": {"field": "eta", "type": "quantitative", "axis": null},
        "y": {"field": "theta", "type": "quantitative", "axis": null},
        "text": {"field": "txt"}
      }
    },
    {
      "data": {"name": "conditionsSans"},
      "mark": {"type": "text", "align": "left", "baseline": "alphabetic", "font": "Lato", "fontSize": 45, "color": "black"},
      "encoding": {
        "x": {"field": "eta", "type": "quantitative", "axis": null},
        "y": {"field": "theta", "type": "quantitative", "axis": null},
        "text": {"field": "txt"}
      }
    },
    {
      "data": {"name": "redNote"},
      "mark": {"type": "text", "align": "center", "baseline": "alphabetic", "font": "Lato", "fontSize": 44, "fontWeight": "bold", "color": "#ff0000"},
      "encoding": {
        "x": {"field": "eta", "type": "quantitative", "axis": null},
        "y": {"field": "theta", "type": "quantitative", "axis": null},
        "text": {"field": "txt"}
      }
    },
    {
      "data": {"name": "blackNotes"},
      "mark": {"type": "text", "align": "center", "baseline": "alphabetic", "font": "Lato", "fontSize": 43, "color": "black"},
      "encoding": {
        "x": {"field": "eta", "type": "quantitative", "axis": null},
        "y": {"field": "theta", "type": "quantitative", "axis": null},
        "text": {"field": "txt"}
      }
    },
    {
      "data": {"name": "redShaft"},
      "mark": {"type": "line", "color": "#ff0000", "strokeWidth": 5},
      "encoding": {
        "x": {"field": "eta", "type": "quantitative", "axis": null},
        "y": {"field": "theta", "type": "quantitative", "axis": null}
      }
    },
    {
      "data": {"name": "redHead"},
      "mark": {"type": "point", "shape": "M-0.75,0.8L0,-0.8L0.75,0.8", "angle": 225, "size": 900, "filled": false, "stroke": "#ff0000", "strokeWidth": 5, "opacity": 1, "strokeCap": "round", "strokeJoin": "round"},
      "encoding": {
        "x": {"field": "eta", "type": "quantitative", "axis": null},
        "y": {"field": "theta", "type": "quantitative", "axis": null}
      }
    },
    {
      "data": {"name": "cryoShaft"},
      "mark": {"type": "line", "color": "black", "strokeWidth": 4, "strokeDash": [18, 10], "interpolate": "monotone"},
      "encoding": {
        "x": {"field": "eta", "type": "quantitative", "axis": null},
        "y": {"field": "theta", "type": "quantitative", "axis": null}
      }
    },
    {
      "data": {"name": "cryoHead"},
      "mark": {"type": "point", "shape": "M-0.75,0.8L0,-0.8L0.75,0.8", "angle": 261, "size": 600, "filled": false, "stroke": "black", "strokeWidth": 4, "opacity": 1},
      "encoding": {
        "x": {"field": "eta", "type": "quantitative", "axis": null},
        "y": {"field": "theta", "type": "quantitative", "axis": null}
      }
    },
    {
      "data": {"name": "litShaft"},
      "mark": {"type": "line", "color": "black", "strokeWidth": 2, "interpolate": "monotone"},
      "encoding": {
        "x": {"field": "eta", "type": "quantitative", "axis": null},
        "y": {"field": "theta", "type": "quantitative", "axis": null}
      }
    },
    {
      "data": {"name": "litHead"},
      "mark": {"type": "point", "shape": "M-0.75,0.8L0,-0.8L0.75,0.8", "angle": 90, "size": 500, "filled": false, "stroke": "black", "strokeWidth": 2, "opacity": 1},
      "encoding": {
        "x": {"field": "eta", "type": "quantitative", "axis": null},
        "y": {"field": "theta", "type": "quantitative", "axis": null}
      }
    }
  ],
  "resolve": {"scale": {"color": "independent"}, "axis": {"x": "independent", "y": "independent"}}
}
